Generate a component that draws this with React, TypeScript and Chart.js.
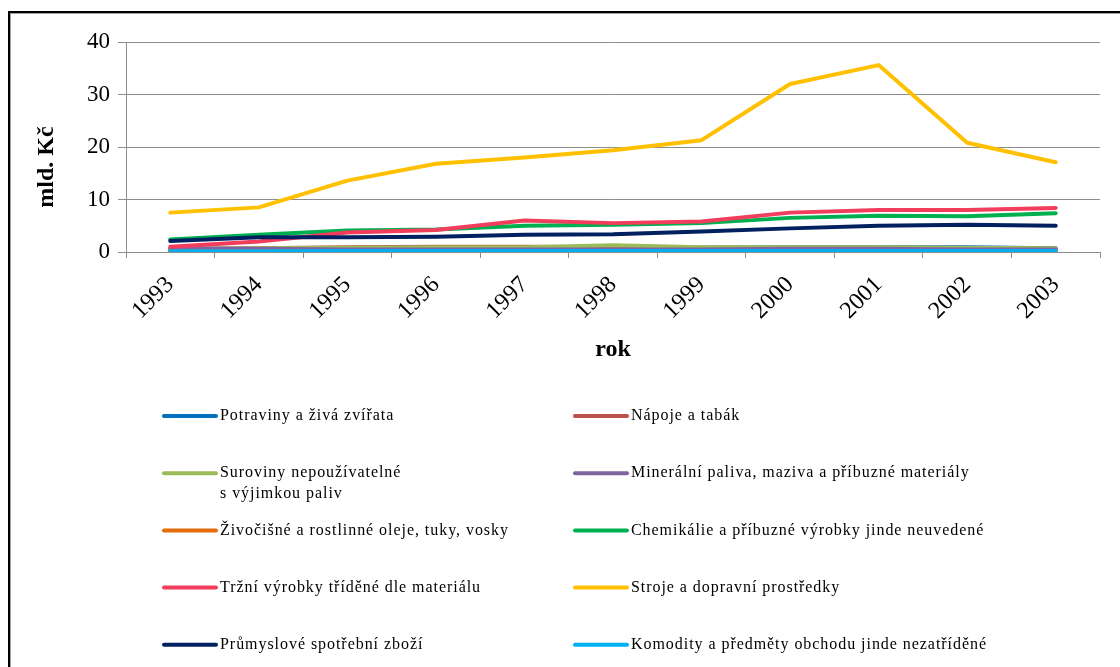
import React, { useEffect, useRef } from "react";
import { Chart, registerables } from "chart.js";

Chart.register(...registerables);

const years = ["1993", "1994", "1995", "1996", "1997", "1998", "1999", "2000", "2001", "2002", "2003"];
const yTicks = [0, 10, 20, 30, 40];

const seriesLabels = [
  "Potraviny a živá zvířata",
  "Nápoje a tabák",
  "Suroviny nepoužívatelné\ns výjimkou paliv",
  "Minerální paliva, maziva a příbuzné materiály",
  "Živočišné a rostlinné oleje, tuky, vosky",
  "Chemikálie a příbuzné výrobky jinde neuvedené",
  "Tržní výrobky tříděné dle materiálu",
  "Stroje a dopravní prostředky",
  "Průmyslové spotřební zboží",
  "Komodity a předměty obchodu jinde nezatříděné",
];

const seriesColors = [
  "#0070C0",
  "#C0504D",
  "#9BBB59",
  "#8064A2",
  "#E46C0A",
  "#00B050",
  "#F23D5C",
  "#FFC000",
  "#002060",
  "#00B0F0",
];

const potraviny = [0.4, 0.5, 0.6, 0.6, 0.6, 0.7, 0.8, 0.9, 0.9, 0.9, 0.7];
const napoje = [0.5, 0.7, 0.9, 1.0, 1.0, 0.9, 0.8, 0.8, 0.8, 0.7, 0.6];
const suroviny = [0.6, 0.7, 0.8, 0.9, 0.9, 1.3, 0.9, 0.9, 0.9, 0.8, 0.7];
const mineralni = [0.7, 0.6, 0.5, 0.5, 0.5, 0.5, 0.5, 0.6, 0.6, 0.5, 0.5];
const zivocisne = [0.1, 0.1, 0.1, 0.1, 0.1, 0.1, 0.1, 0.1, 0.1, 0.1, 0.1];
const chemikalie = [2.4, 3.3, 4.1, 4.3, 5.0, 5.2, 5.5, 6.5, 6.9, 6.8, 7.4];
const trzni = [1.0, 2.0, 3.7, 4.2, 6.0, 5.5, 5.8, 7.5, 8.0, 8.0, 8.4];
const stroje = [7.5, 8.5, 13.6, 16.8, 18.0, 19.4, 21.3, 32.0, 35.6, 20.8, 17.1];
const prumyslove = [2.1, 2.8, 2.8, 2.9, 3.3, 3.4, 3.9, 4.5, 5.0, 5.2, 5.0];
const komodity = [0.15, 0.15, 0.2, 0.2, 0.2, 0.2, 0.2, 0.2, 0.2, 0.2, 0.2];

const seriesValues = [potraviny, napoje, suroviny, mineralni, zivocisne, chemikalie, trzni, stroje, prumyslove, komodity];

const yTitle = "mld. Kč";
const xTitle = "rok";

const serif = "'Liberation Serif', 'Times New Roman', serif";

const gridLegend = {
  id: "gridLegend",
  afterDraw(chart: any) {
    const ctx = chart.ctx as CanvasRenderingContext2D;
    const ds = chart.data.datasets;
    ctx.save();
    ctx.font = `16px ${serif}`;
    (ctx as any).letterSpacing = "0.95px";
    ctx.fillStyle = "#000";
    ctx.textBaseline = "middle";
    ctx.textAlign = "left";
    ds.forEach((d: any, i: number) => {
      const col = i % 2;
      const row = Math.floor(i / 2);
      const x0 = col === 0 ? 164 : 575;
      const y = 416 + row * 57.2;
      ctx.strokeStyle = d.borderColor;
      ctx.lineWidth = 4;
      ctx.lineCap = "round";
      ctx.beginPath();
      ctx.moveTo(x0, y);
      ctx.lineTo(x0 + 52, y);
      ctx.stroke();
      String(d.label)
        .split("\n")
        .forEach((t: string, k: number) => ctx.fillText(t, x0 + 56, y + k * 21));
    });
    ctx.restore();
  },
};

const yTitlePlugin = {
  id: "yTitlePlugin",
  afterDraw(chart: any) {
    const ctx = chart.ctx as CanvasRenderingContext2D;
    ctx.save();
    ctx.font = `bold 24px ${serif}`;
    ctx.fillStyle = "#000";
    ctx.textAlign = "center";
    ctx.textBaseline = "middle";
    ctx.translate(47, 167);
    ctx.rotate(-Math.PI / 2);
    ctx.fillText(yTitle, 0, 0);
    ctx.restore();
  },
};

export default function App() {
  const ref = useRef<HTMLCanvasElement | null>(null);

  useEffect(() => {
    if (!ref.current) return;
    const n = seriesValues.length;
    const chart = new Chart(ref.current, {
      type: "line",
      data: {
        labels: years,
        datasets: seriesValues.map((vals, i) => ({
          label: seriesLabels[i],
          data: vals,
          borderColor: seriesColors[i],
          backgroundColor: seriesColors[i],
          borderWidth: 4,
          pointRadius: 0,
          tension: 0,
          borderCapStyle: "round",
          borderJoinStyle: "round",
          order: n - i,
        })),
      },
      options: {
        responsive: false,
        animation: false,
        devicePixelRatio: 1,
        layout: { padding: { left: 0, top: 42, right: 20, bottom: 295 } },
        plugins: {
          legend: { display: false },
          tooltip: { enabled: false },
          title: { display: false },
        },
        scales: {
          x: {
            type: "category",
            offset: true,
            grid: {
              offset: true,
              drawOnChartArea: false,
              drawTicks: true,
              tickLength: 6,
              color: "#8c8c8c",
            },
            border: { display: true, color: "#8c8c8c" },
            ticks: {
              minRotation: 45,
              maxRotation: 45,
              autoSkip: false,
              padding: 13,
              labelOffset: 0,
              color: "#000",
              font: { family: serif, size: 24 },
            },
            title: {
              display: true,
              text: xTitle,
              color: "#000",
              font: { family: serif, size: 24, weight: "bold" },
              padding: { top: 0, bottom: 8 },
            },
            afterFit(scale: any) {
              scale.height = 120;
            },
          },
          y: {
            min: 0,
            max: 40,
            afterBuildTicks(scale: any) {
              scale.ticks = yTicks.map((v) => ({ value: v }));
            },
            grid: {
              color: "#8c8c8c",
              tickLength: 8,
              drawTicks: true,
            },
            border: { display: true, color: "#8c8c8c" },
            ticks: {
              padding: 8,
              color: "#000",
              font: { family: serif, size: 23 },
            },
            afterFit(scale: any) {
              scale.width = 126;
            },
          },
        },
      },
      plugins: [gridLegend, yTitlePlugin],
    } as any);
    return () => chart.destroy();
  }, []);

  return (
    <div
      style={{
        position: "fixed",
        left: 0,
        top: 0,
        width: 1120,
        height: 667,
        overflow: "hidden",
        background: "#fff",
      }}
    >
      <div
        style={{
          position: "absolute",
          left: 8,
          top: 11,
          width: 1140,
          height: 700,
          border: "2px solid #000",
          boxShadow: "inset 1px 1px 0 #a0a0a0",
          boxSizing: "border-box",
        }}
      />
      <canvas
        ref={ref}
        width={1120}
        height={667}
        style={{ position: "absolute", left: 0, top: 0, width: 1120, height: 667 }}
      />
    </div>
  );
}
